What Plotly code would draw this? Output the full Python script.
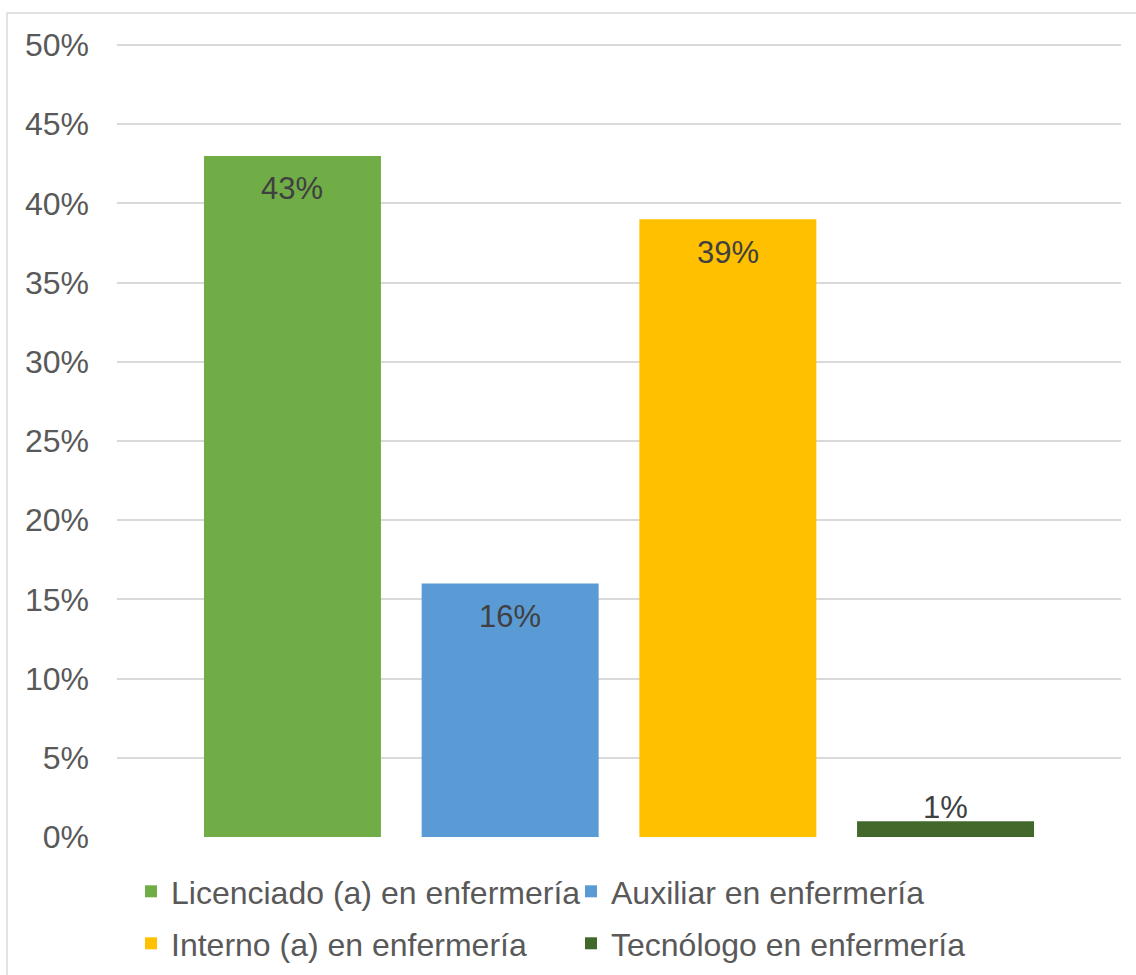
import plotly.graph_objects as go

categories = ["Licenciado (a) en enfermería", "Auxiliar en enfermería",
              "Interno (a) en enfermería", "Tecnólogo en enfermería"]
values = [0.43, 0.16, 0.39, 0.01]
labels = ["43%", "16%", "39%", "1%"]
colors = ["#70AD47", "#5B9BD5", "#FFC000", "#43682B"]
y_ticks = [0, 0.05, 0.10, 0.15, 0.20, 0.25, 0.30, 0.35, 0.40, 0.45, 0.50]
y_ticklabels = ["0%", "5%", "10%", "15%", "20%", "25%", "30%", "35%", "40%", "45%", "50%"]

FONT = "Liberation Sans, Arial, sans-serif"

W, H = 1136, 975
ml, mr, mt, mb = 117, 15, 43, 138
pw, ph = W - ml - mr, H - mt - mb
y_top = 0.5 * ph / (ph - 2)  # leave 2px so the 50% gridline is drawn


def px_x(x):
    return (x - ml) / pw


def px_y(y):
    return (H - mb - y) / ph


fig = go.Figure()
for i, (name, v, c) in enumerate(zip(categories, values, colors)):
    fig.add_trace(go.Bar(
        x=[i], y=[v], name=name, width=0.813,
        marker=dict(color=c, line=dict(width=0)),
        hoverinfo="skip",
        legend="legend" if i < 2 else "legend2",
    ))

annotations = []
for i, (v, t) in enumerate(zip(values, labels)):
    inside = v > 0.05
    annotations.append(dict(
        x=i, y=v, xref="x", yref="y", text=t, showarrow=False,
        yanchor="middle", yshift=-33 if inside else 14,
        font=dict(family=FONT, size=31, color="#404040"),
    ))

legend_common = dict(
    orientation="h", xanchor="left", yanchor="top",
    font=dict(family=FONT, size=32, color="#595959"),
    entrywidth=395, entrywidthmode="pixels",
    bgcolor="rgba(0,0,0,0)", itemclick=False, itemdoubleclick=False,
)

fig.update_layout(
    width=W, height=H,
    margin=dict(l=ml, r=mr, t=mt, b=mb, autoexpand=False),
    paper_bgcolor="white", plot_bgcolor="white",
    barmode="overlay",
    showlegend=True,
    legend=dict(x=px_x(131), y=px_y(864), **legend_common),
    legend2=dict(x=px_x(131), y=px_y(916), **legend_common),
    xaxis=dict(range=[-0.806, 3.806], showgrid=False, zeroline=False,
               showticklabels=False, ticks="", showline=False, fixedrange=True),
    yaxis=dict(range=[0, y_top], tickvals=y_ticks, ticktext=y_ticklabels,
               showgrid=True, gridcolor="#D9D9D9", gridwidth=1.5,
               zeroline=False, showline=False, ticks="",
               ticklabelstandoff=27,
               tickfont=dict(family=FONT, size=32, color="#595959"),
               fixedrange=True),
    annotations=annotations,
    shapes=[dict(type="rect", xref="paper", yref="paper",
                 x0=px_x(7), x1=px_x(1160), y0=px_y(1000), y1=px_y(13),
                 line=dict(color="#D9D9D9", width=1.5), fillcolor="rgba(0,0,0,0)",
                 layer="below")],
)

fig.write_html("out.html", config={"displayModeBar": False},
               post_script="document.body.style.margin='0';document.body.style.overflow='hidden';")
